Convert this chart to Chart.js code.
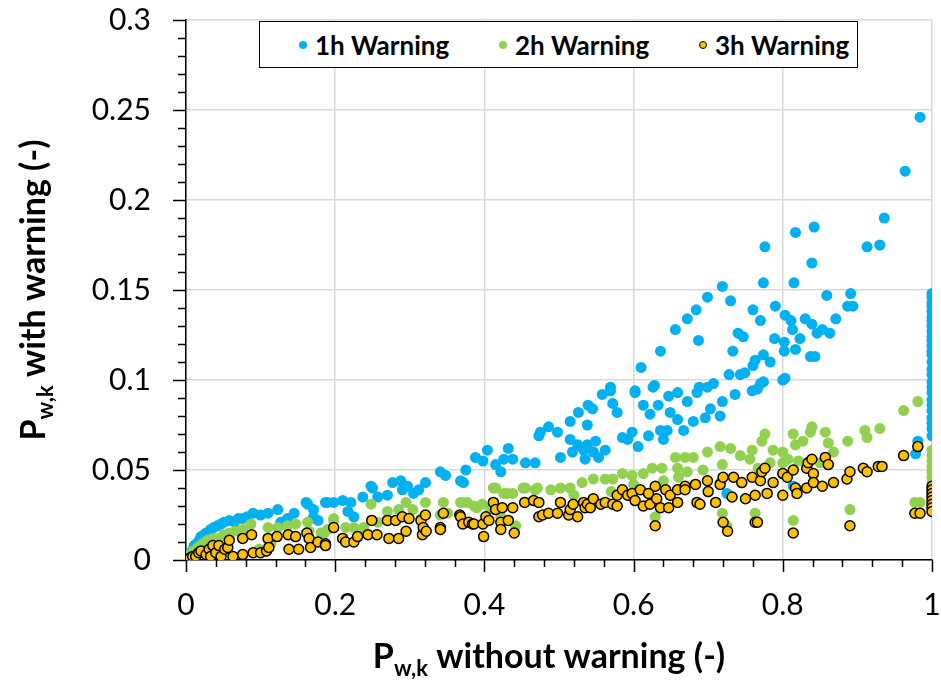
<!DOCTYPE html>
<html>
<head>
<meta charset="utf-8">
<script src="https://cdn.jsdelivr.net/npm/chart.js@4/dist/chart.umd.min.js"></script>
<style>
  body { margin: 0; background: #fff; }
  #wrap { position: relative; width: 941px; height: 680px; }
  #legend { position: absolute; left: 259px; top: 21px; width: 597px; height: 45px; border: 1.5px solid #000; background: #fff; font: bold 26px Lato, "Open Sans", sans-serif; }
  #legend .item { position: absolute; top: 0; height: 45px; display: flex; align-items: center; white-space: nowrap; }
  #legend .dot { width: 8px; height: 8px; border-radius: 50%; margin-right: 8px; box-sizing: border-box; flex: none; }
</style>
</head>
<body>
<div id="wrap">
  <canvas id="chart"></canvas>
  <div id="legend"></div>
</div>
<script>
const seriesNames = ["1h Warning", "2h Warning", "3h Warning"];
const xTickValues = [0, 0.2, 0.4, 0.6, 0.8, 1];
const yTickValues = [0, 0.05, 0.1, 0.15, 0.2, 0.25, 0.3];

// [P without warning, P with warning]
const warn1h = [
  [0.002,0.001],[0.005,0.003],[0.008,0.005],[0.011,0.008],[0.014,0.009],[0.018,0.011],[0.02,0.013],[0.024,0.014],
  [0.027,0.015],[0.033,0.017],[0.037,0.018],[0.042,0.019],[0.047,0.02],[0.051,0.021],[0.058,0.022],[0.065,0.021],
  [0.07,0.023],[0.076,0.023],[0.082,0.024],[0.09,0.026],[0.1,0.025],[0.11,0.026],[0.123,0.028],[0.127,0.021],
  [0.136,0.023],[0.145,0.026],[0.161,0.032],[0.163,0.031],[0.171,0.028],[0.171,0.024],[0.177,0.022],[0.187,0.032],
  [0.19,0.032],[0.198,0.032],[0.21,0.033],[0.217,0.027],[0.221,0.032],[0.225,0.024],[0.237,0.035],[0.248,0.041],
  [0.25,0.04],[0.257,0.035],[0.27,0.036],[0.277,0.043],[0.288,0.044],[0.29,0.039],[0.297,0.041],[0.305,0.037],
  [0.312,0.039],[0.321,0.043],[0.341,0.049],[0.348,0.047],[0.368,0.044],[0.372,0.043],[0.375,0.05],[0.388,0.057],
  [0.398,0.055],[0.404,0.061],[0.415,0.053],[0.422,0.049],[0.426,0.056],[0.432,0.062],[0.438,0.056],[0.455,0.054],
  [0.468,0.054],[0.473,0.069],[0.475,0.071],[0.486,0.074],[0.498,0.071],[0.502,0.057],[0.515,0.067],[0.515,0.077],
  [0.518,0.06],[0.525,0.064],[0.526,0.082],[0.533,0.061],[0.535,0.056],[0.538,0.075],[0.538,0.064],[0.539,0.086],
  [0.545,0.084],[0.546,0.06],[0.549,0.066],[0.553,0.057],[0.558,0.092],[0.562,0.061],[0.569,0.094],[0.569,0.096],
  [0.572,0.087],[0.578,0.082],[0.585,0.068],[0.592,0.067],[0.598,0.071],[0.602,0.093],[0.602,0.094],[0.606,0.063],
  [0.61,0.107],[0.613,0.086],[0.62,0.069],[0.622,0.081],[0.626,0.096],[0.628,0.097],[0.633,0.086],[0.636,0.072],
  [0.636,0.116],[0.64,0.067],[0.645,0.072],[0.647,0.091],[0.649,0.082],[0.656,0.128],[0.659,0.093],[0.659,0.078],
  [0.667,0.072],[0.672,0.088],[0.672,0.134],[0.68,0.077],[0.684,0.139],[0.685,0.093],[0.687,0.122],[0.688,0.096],
  [0.696,0.079],[0.699,0.096],[0.699,0.146],[0.703,0.084],[0.707,0.098],[0.716,0.08],[0.719,0.088],[0.719,0.152],
  [0.725,0.037],[0.728,0.103],[0.73,0.144],[0.733,0.116],[0.736,0.092],[0.74,0.126],[0.743,0.103],[0.747,0.124],
  [0.749,0.104],[0.759,0.094],[0.76,0.108],[0.76,0.139],[0.763,0.111],[0.766,0.095],[0.77,0.098],[0.77,0.133],
  [0.774,0.114],[0.774,0.099],[0.774,0.154],[0.776,0.174],[0.783,0.11],[0.789,0.123],[0.79,0.141],[0.8,0.1],
  [0.802,0.121],[0.802,0.116],[0.803,0.101],[0.803,0.136],[0.811,0.133],[0.813,0.128],[0.814,0.041],[0.815,0.154],
  [0.817,0.117],[0.817,0.182],[0.823,0.123],[0.83,0.134],[0.837,0.113],[0.839,0.131],[0.839,0.165],[0.842,0.185],
  [0.843,0.113],[0.846,0.126],[0.853,0.128],[0.859,0.147],[0.863,0.126],[0.871,0.134],[0.887,0.141],[0.891,0.148],
  [0.894,0.141],[0.913,0.174],[0.93,0.175],[0.936,0.19],[0.964,0.216],[0.978,0.059],[0.981,0.066],[0.984,0.246],
  [1,0.148],[1,0.146],[1,0.143],[1,0.141],[1,0.138],[1,0.135],[1,0.133],[1,0.13],[1,0.127],[1,0.124],[1,0.122],
  [1,0.119],[1,0.116],[1,0.114],[1,0.11],[1,0.106],[1,0.103],[1,0.099],[1,0.096],[1,0.093],[1,0.089],[1,0.086],
  [1,0.083],[1,0.079],[1,0.076],[1,0.073],[1,0.069]
];

const warn2h = [
  [0.001,0.001],[0.006,0.003],[0.01,0.005],[0.016,0.007],[0.022,0.009],[0.029,0.011],[0.036,0.012],[0.043,0.012],
  [0.05,0.014],[0.058,0.015],[0.066,0.016],[0.076,0.017],[0.087,0.02],[0.098,0.006],[0.11,0.018],[0.114,0.009],
  [0.123,0.018],[0.136,0.019],[0.147,0.02],[0.163,0.021],[0.165,0.016],[0.181,0.015],[0.185,0.015],[0.19,0.017],
  [0.198,0.022],[0.198,0.023],[0.214,0.018],[0.225,0.018],[0.238,0.018],[0.248,0.031],[0.257,0.021],[0.27,0.027],
  [0.285,0.028],[0.295,0.032],[0.304,0.028],[0.315,0.023],[0.321,0.032],[0.341,0.025],[0.345,0.032],[0.351,0.026],
  [0.368,0.032],[0.371,0.032],[0.377,0.032],[0.386,0.03],[0.39,0.029],[0.397,0.031],[0.399,0.013],[0.408,0.029],
  [0.412,0.04],[0.415,0.04],[0.422,0.024],[0.426,0.037],[0.431,0.037],[0.438,0.037],[0.442,0.019],[0.452,0.04],
  [0.455,0.04],[0.468,0.039],[0.471,0.04],[0.489,0.039],[0.502,0.04],[0.515,0.04],[0.52,0.036],[0.531,0.043],
  [0.546,0.045],[0.562,0.045],[0.57,0.038],[0.572,0.045],[0.585,0.048],[0.598,0.047],[0.6,0.042],[0.613,0.048],
  [0.625,0.051],[0.629,0.024],[0.638,0.051],[0.64,0.044],[0.656,0.057],[0.659,0.051],[0.66,0.046],[0.669,0.057],
  [0.672,0.049],[0.68,0.057],[0.693,0.05],[0.699,0.06],[0.716,0.063],[0.716,0.043],[0.719,0.053],[0.719,0.026],
  [0.725,0.019],[0.73,0.062],[0.743,0.058],[0.756,0.056],[0.759,0.061],[0.763,0.026],[0.767,0.051],[0.772,0.066],
  [0.776,0.07],[0.783,0.054],[0.787,0.061],[0.8,0.06],[0.8,0.054],[0.807,0.056],[0.814,0.07],[0.814,0.022],
  [0.817,0.064],[0.821,0.055],[0.827,0.066],[0.837,0.071],[0.839,0.074],[0.85,0.054],[0.857,0.071],[0.861,0.065],
  [0.868,0.06],[0.887,0.066],[0.89,0.028],[0.91,0.072],[0.913,0.068],[0.93,0.073],[0.962,0.083],[0.977,0.032],
  [0.981,0.088],[0.984,0.032],
  [1,0.061],[1,0.058],[1,0.055],[1,0.052],[1,0.049],[1,0.046],[1,0.043],[1,0.04],[1,0.037]
];

const warn3h = [
  [0.001,0.0],[0.005,0.001],[0.009,0.002],[0.013,0.002],[0.017,0.004],[0.02,0.005],[0.027,0.003],[0.031,0.006],
  [0.033,0.002],[0.036,0.008],[0.04,0.004],[0.044,0.008],[0.047,0.002],[0.052,0.006],[0.056,0.007],[0.058,0.011],
  [0.063,0.002],[0.076,0.003],[0.076,0.012],[0.088,0.014],[0.09,0.004],[0.1,0.004],[0.108,0.005],[0.11,0.012],
  [0.111,0.007],[0.122,0.013],[0.137,0.014],[0.138,0.006],[0.147,0.013],[0.151,0.006],[0.162,0.015],[0.165,0.012],
  [0.167,0.007],[0.177,0.01],[0.187,0.009],[0.187,0.008],[0.198,0.018],[0.21,0.012],[0.214,0.01],[0.225,0.01],
  [0.23,0.013],[0.244,0.014],[0.249,0.022],[0.256,0.014],[0.27,0.022],[0.272,0.012],[0.281,0.022],[0.285,0.012],
  [0.29,0.024],[0.295,0.016],[0.299,0.023],[0.315,0.022],[0.317,0.014],[0.318,0.018],[0.321,0.025],[0.322,0.016],
  [0.341,0.018],[0.341,0.017],[0.345,0.026],[0.367,0.025],[0.368,0.024],[0.371,0.02],[0.379,0.021],[0.384,0.02],
  [0.386,0.02],[0.398,0.02],[0.399,0.013],[0.402,0.024],[0.406,0.022],[0.412,0.032],[0.415,0.028],[0.422,0.021],
  [0.422,0.017],[0.424,0.029],[0.432,0.022],[0.438,0.029],[0.44,0.015],[0.454,0.032],[0.466,0.033],[0.473,0.032],
  [0.473,0.024],[0.478,0.025],[0.486,0.026],[0.498,0.026],[0.502,0.032],[0.513,0.025],[0.515,0.028],[0.519,0.031],
  [0.525,0.024],[0.533,0.032],[0.535,0.029],[0.538,0.031],[0.542,0.029],[0.546,0.034],[0.556,0.031],[0.562,0.032],
  [0.572,0.031],[0.578,0.03],[0.578,0.036],[0.585,0.039],[0.592,0.036],[0.598,0.037],[0.602,0.033],[0.609,0.039],
  [0.613,0.03],[0.62,0.037],[0.622,0.031],[0.629,0.041],[0.629,0.019],[0.631,0.034],[0.636,0.029],[0.643,0.039],
  [0.647,0.029],[0.649,0.036],[0.659,0.032],[0.659,0.039],[0.669,0.041],[0.669,0.039],[0.683,0.042],[0.685,0.032],
  [0.689,0.031],[0.699,0.044],[0.7,0.038],[0.71,0.032],[0.716,0.042],[0.72,0.046],[0.72,0.021],[0.726,0.016],
  [0.732,0.035],[0.734,0.046],[0.745,0.043],[0.75,0.034],[0.759,0.046],[0.763,0.036],[0.763,0.021],[0.766,0.021],
  [0.77,0.044],[0.772,0.049],[0.776,0.051],[0.779,0.037],[0.787,0.043],[0.8,0.048],[0.8,0.036],[0.806,0.046],
  [0.814,0.05],[0.814,0.015],[0.817,0.04],[0.819,0.037],[0.832,0.051],[0.832,0.04],[0.834,0.054],[0.839,0.056],
  [0.841,0.048],[0.841,0.043],[0.853,0.041],[0.857,0.057],[0.861,0.053],[0.868,0.043],[0.886,0.045],[0.89,0.049],
  [0.89,0.019],[0.908,0.051],[0.913,0.049],[0.928,0.052],[0.933,0.052],[0.962,0.058],[0.977,0.026],[0.981,0.063],
  [0.984,0.026],
  [1,0.041],[1,0.039],[1,0.037],[1,0.035],[1,0.033],[1,0.031],[1,0.029],[1,0.027]
];

const seriesData = [warn1h, warn2h, warn3h];
const fills = ["#00B0F0", "#92D050", "#FFC000"];
const borders = ["#00B0F0", "#92D050", "#000000"];

const FONT = 'Lato, "Open Sans", sans-serif';

// minor tick marks outside the axes
const minorTicks = {
  id: "minorTicks",
  afterDraw(chart) {
    const { ctx, scales: { x, y } } = chart;
    ctx.save();
    ctx.strokeStyle = "#000";
    ctx.lineWidth = 1.5;
    ctx.beginPath();
    for (let i = 0; i <= 25; i++) {
      const px = Math.round(x.getPixelForValue(i * 0.04)) + 0.5;
      const len = i % 5 === 0 ? 12 : 7;
      ctx.moveTo(px, y.bottom); ctx.lineTo(px, y.bottom + len);
    }
    for (let i = 0; i <= 30; i++) {
      const py = Math.round(y.getPixelForValue(i * 0.01)) + 0.5;
      const len = i % 5 === 0 ? 13 : 8;
      ctx.moveTo(x.left, py); ctx.lineTo(x.left - len, py);
    }
    ctx.stroke();
    ctx.restore();
  }
};

// axis titles with subscript
function drawSubTitle(ctx, parts, cx, cy) {
  let w = 0;
  parts.forEach(p => { ctx.font = "bold " + p.size + "px " + FONT; p.w = ctx.measureText(p.t).width; w += p.w; });
  let x0 = cx - w / 2;
  parts.forEach(p => {
    ctx.font = "bold " + p.size + "px " + FONT;
    ctx.fillText(p.t, x0, cy + p.dy);
    x0 += p.w;
  });
}
const axisTitles = {
  id: "axisTitles",
  afterDraw(chart) {
    const ctx = chart.ctx;
    const a = chart.chartArea;
    ctx.save();
    ctx.fillStyle = "#000";
    ctx.textBaseline = "alphabetic";
    drawSubTitle(ctx, [
      { t: "P", size: 34, dy: 0 }, { t: "w,k", size: 22, dy: 8 }, { t: " without warning (-)", size: 34, dy: 0 }
    ], 549, 668);
    ctx.translate(45, (a.top + a.bottom) / 2);
    ctx.rotate(-Math.PI / 2);
    drawSubTitle(ctx, [
      { t: "P", size: 34, dy: 0 }, { t: "w,k", size: 22, dy: 8 }, { t: " with warning (-)", size: 34, dy: 0 }
    ], 0, 0);
    ctx.restore();
  }
};

const chart = new Chart(document.getElementById("chart"), {
  type: "scatter",
  data: {
    datasets: seriesNames.map((name, i) => ({
      label: name,
      data: seriesData[i].map(p => ({ x: p[0], y: p[1] })),
      backgroundColor: fills[i],
      borderColor: borders[i],
      borderWidth: i === 2 ? 1.5 : 0,
      pointRadius: i === 2 ? 5 : 5.5,
      order: 2 - i
    }))
  },
  options: {
    responsive: true,
    maintainAspectRatio: false,
    animation: false,
    layout: { padding: { top: 20, right: 9, left: 0, bottom: 0 } },
    plugins: { legend: { display: false }, tooltip: { enabled: false } },
    scales: {
      x: {
        type: "linear", min: 0, max: 1,
        afterBuildTicks: s => { s.ticks = xTickValues.map(v => ({ value: v })); },
        afterFit: s => { s.height = 120; s.paddingLeft = 0; s.paddingRight = 0; },
        grid: { color: "#d9d9d9", lineWidth: 1.5, drawTicks: false },
        border: { color: "#000", width: 1.5 },
        ticks: { padding: 27, color: "#000", font: { family: FONT, size: 30 }, callback: v => String(Math.round(v * 10) / 10) }
      },
      y: {
        type: "linear", min: 0, max: 0.3,
        afterBuildTicks: s => { s.ticks = yTickValues.map(v => ({ value: v })); },
        afterFit: s => { s.width = 186; s.paddingTop = 0; s.paddingBottom = 0; },
        grid: { color: "#d9d9d9", lineWidth: 1.5, drawTicks: false },
        border: { color: "#000", width: 1.5 },
        ticks: { padding: 35, color: "#000", font: { family: FONT, size: 30 }, callback: v => String(Math.round(v * 100) / 100) }
      }
    }
  },
  plugins: [minorTicks, axisTitles]
});

// legend box inside the plot
const legend = document.getElementById("legend");
const itemLeft = [39, 239, 439];
seriesNames.forEach((name, i) => {
  const item = document.createElement("div");
  item.className = "item";
  item.style.left = itemLeft[i] + "px";
  const dot = document.createElement("span");
  dot.className = "dot";
  dot.style.background = fills[i];
  if (i === 2) dot.style.border = "1.5px solid #000";
  item.appendChild(dot);
  item.appendChild(document.createTextNode(name));
  legend.appendChild(item);
});
</script>
</body>
</html>
